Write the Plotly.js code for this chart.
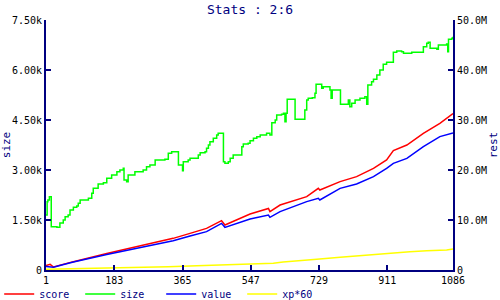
<!DOCTYPE html>
<html><head><meta charset="utf-8">
<script src="https://cdn.plot.ly/plotly-3.0.1.min.js"></script>
<style>html,body{margin:0;padding:0;background:#fff}#c{width:500px;height:300px}</style>
</head><body><div id="c"></div>
<script>
// size (left axis)
const sizeDays = [1,4,6,10,15,25,30,38,47,52,60,65,74,83,87,92,114,123,127,140,154,163,176,190,198,207,209,216,220,238,260,269,278,292,318,327,336,351,354,365,367,380,385,407,412,425,429,434,438,447,456,460,472,474,478,487,492,500,520,523,527,540,545,554,563,572,589,598,603,612,616,629,634,638,641,644,662,665,687,691,696,700,711,718,721,731,736,740,754,758,761,764,785,786,803,807,811,816,825,838,851,856,859,869,874,883,891,900,909,925,927,936,949,954,971,976,998,1007,1016,1020,1025,1043,1047,1069,1072,1074,1083,1086];
const sizeVals = [1650,2050,2100,2200,1300,1300,1280,1410,1500,1600,1650,1800,1880,1920,2000,2100,2150,2300,2450,2580,2620,2750,2850,2950,3000,3050,2700,2650,2850,2950,3000,3100,3150,3300,3320,3500,3550,3550,3150,2980,3250,3300,3350,3450,3520,3550,3650,3750,3850,3950,4050,4100,4100,3250,3200,3250,3350,3450,3450,3700,3780,3800,3880,3950,4000,4050,4100,4050,4420,4500,4650,4670,4700,4450,4700,5120,5120,4520,4520,4800,5100,5150,5170,5300,5570,5570,5450,5500,5500,5400,5150,5400,5400,4970,4970,5100,4900,5000,5100,5150,5200,4970,5550,5650,5720,5850,6000,6170,6230,6230,6530,6570,6550,6500,6500,6530,6530,6700,6800,6830,6650,6620,6750,6780,6550,6920,6950,7000];
// score (right axis, M)
const scoreDays = [1,12,21,38,74,163,252,340,385,429,469,473,478,545,594,598,625,696,727,731,785,829,874,909,927,963,1007,1051,1086];
const scoreVals = [0.9,1.13,0.6,0.9,1.67,3.3,4.87,6.33,7.33,8.33,9.87,9.4,9.0,11.2,12.3,11.67,13.0,14.67,16.33,16.0,17.67,18.67,20.33,22.0,23.87,25.0,27.33,29.33,31.3];
// value (right axis, M)
const valueDays = [1,21,38,74,163,252,340,385,429,469,478,545,594,598,625,696,727,731,785,829,874,909,927,963,1007,1051,1086];
const valueVals = [0.7,0.55,0.9,1.6,3.1,4.53,5.87,6.8,7.67,9.33,8.53,10.2,11.0,10.53,11.67,13.67,14.33,14.0,16.33,17.2,18.67,20.33,21.33,22.33,24.67,26.67,27.4];
// xp*60 (right axis, M)
const xpDays = [1,38,145,220,327,403,509,607,633,660,723,785,856,927,971,1016,1069,1086];
const xpVals = [0.15,0.2,0.33,0.53,0.67,0.87,1.13,1.33,1.6,1.8,2.13,2.53,3.0,3.47,3.67,3.87,4.0,4.2];

const xTicks = [1,183,365,547,729,911,1086];
const yLeftTicks = [0,1500,3000,4500,6000,7500];
const yLeftText = ['0','1.50k','3.00k','4.50k','6.00k','7.50k'];
const yRightTicks = [0,10,20,30,40,50];
const yRightText = ['0','10.0M','20.0M','30.0M','40.0M','50.0M'];

const F = 'DejaVu Sans Mono, monospace';
const navy = '#000080';
const mk = (name, x, y, color, yaxis, shape) => ({type:'scatter', mode:'lines', name, x, y, yaxis,
  line:{color, width:1.5, shape}});
const data = [
  mk('score', scoreDays, scoreVals, '#ff0000', 'y2', 'linear'),
  mk('size', sizeDays, sizeVals, '#00ff00', 'y', 'hv'),
  mk('value', valueDays, valueVals, '#0000ff', 'y2', 'linear'),
  mk('xp*60', xpDays, xpVals, '#ffff00', 'y2', 'linear'),
];
const ax = {showgrid:false, zeroline:false, showline:true, linecolor:navy, linewidth:2, automargin:false,
  ticks:'inside', ticklen:5, tickcolor:navy, tickwidth:2, tickfont:{family:F, size:10, color:'#000'}};
const layout = {
  width:500, height:300, margin:{l:46, r:47, t:20, b:30, autoexpand:false},
  paper_bgcolor:'#fff', plot_bgcolor:'#fff', font:{family:F},
  title:{text:'Stats : 2:6', font:{family:F, size:13, color:navy}, x:0.5, xanchor:'center', y:0.985, yanchor:'top'},
  xaxis:Object.assign({}, ax, {range:[1,1086], tickmode:'array', tickvals:xTicks, ticktext:xTicks.map(String)}),
  yaxis:Object.assign({}, ax, {range:[0,7500], tickmode:'array', tickvals:yLeftTicks, ticktext:yLeftText,
    title:{text:'size', font:{family:F, size:11, color:navy}, standoff:4}}),
  yaxis2:Object.assign({}, ax, {overlaying:'y', side:'right', range:[0,50], tickmode:'array', tickvals:yRightTicks, ticktext:yRightText,
    title:{text:'rest', font:{family:F, size:11, color:navy}, standoff:4}}),
  showlegend:true,
  legend:{orientation:'h', x:-0.115, xanchor:'left', y:-0.096, yanchor:'middle',
    font:{family:F, size:10, color:navy}, itemwidth:30, entrywidth:36, entrywidthmode:'pixels',
    tracegroupgap:0, bgcolor:'rgba(0,0,0,0)'}
};
Plotly.newPlot('c', data, layout, {staticPlot:true, displayModeBar:false});
</script></body></html>
